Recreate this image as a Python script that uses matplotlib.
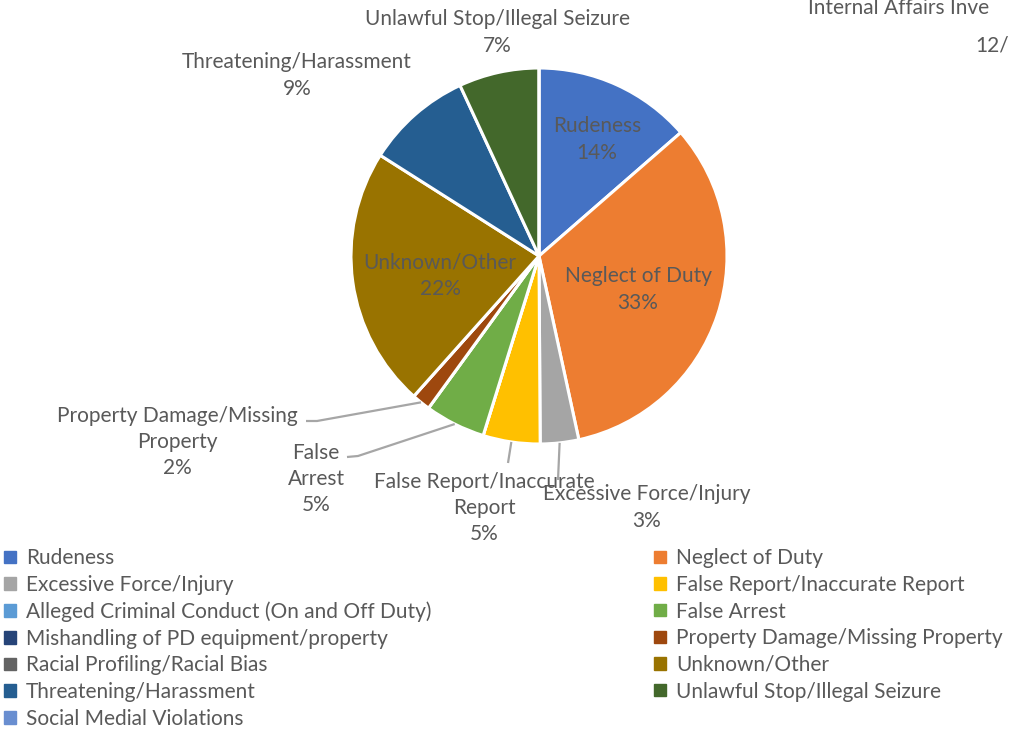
import numpy as np
import matplotlib
matplotlib.use("Agg")
import matplotlib.pyplot as plt
from matplotlib.patches import Patch

plt.rcParams['font.family'] = ['Lato', 'DejaVu Sans']

# Complaint categories (legend order, slices run clockwise from 12 o'clock)
categories = [
    "Rudeness", "Neglect of Duty", "Excessive Force/Injury",
    "False Report/Inaccurate Report", "Alleged Criminal Conduct (On and Off Duty)",
    "False Arrest", "Mishandling of PD equipment/property",
    "Property Damage/Missing Property", "Racial Profiling/Racial Bias",
    "Unknown/Other", "Threatening/Harassment", "Unlawful Stop/Illegal Seizure",
    "Social Medial Violations",
]
shares = [13.6, 33.0, 3.3, 4.9, 0.0, 5.2, 0.0, 1.6, 0.0, 22.4, 9.1, 6.9, 0.0]
colors = ["#4472C4", "#ED7D31", "#A5A5A5", "#FFC000", "#5B9BD5", "#70AD47",
          "#264478", "#9E480E", "#636363", "#997300", "#255E91", "#43682B",
          "#698ED0"]
# wrapped label text as shown on the chart
label_text = {
    "Rudeness": "Rudeness",
    "Neglect of Duty": "Neglect of Duty",
    "Excessive Force/Injury": "Excessive Force/Injury",
    "False Report/Inaccurate Report": "False Report/Inaccurate\nReport",
    "False Arrest": "False\nArrest",
    "Property Damage/Missing Property": "Property Damage/Missing\nProperty",
    "Unknown/Other": "Unknown/Other",
    "Threatening/Harassment": "Threatening/Harassment",
    "Unlawful Stop/Illegal Seizure": "Unlawful Stop/Illegal Seizure",
}

text_color = "#595959"
line_color = "#A6A6A6"
R_PX = 188.0            # pie radius in pixels
CX, CY = 539.0, 256.0   # pie centre in pixels (from top-left)
W, H = 1013, 734


def px(x, y):
    # pixel position (top-left origin) -> pie data units
    return (x - CX) / R_PX, (CY - y) / R_PX


fig = plt.figure(figsize=(W / 100, H / 100), dpi=100)
ax = fig.add_axes([0, 0, 1, 1])

wedges, _ = ax.pie(shares, colors=colors, startangle=90, counterclock=False,
                   radius=1.0, wedgeprops=dict(edgecolor="white", linewidth=2.2))
# pie() resets the limits, so fix them afterwards
ax.set_xlim(-CX / R_PX, (W - CX) / R_PX)
ax.set_ylim((CY - H) / R_PX, CY / R_PX)
ax.set_aspect("equal")
ax.axis("off")

# label placement in pixels: (centre x, first-line centre y, elbow points or None)
placement = {
    "Rudeness": (597, 125, None),
    "Neglect of Duty": (638, 275, None),
    "Unknown/Other": (440, 261, None),
    "Unlawful Stop/Illegal Seizure": (497, 18, None),
    "Threatening/Harassment": (297, 61, None),
    "Property Damage/Missing Property": (177, 413, (306, 421, 317, 421)),
    "False Arrest": (316, 450, (347, 457, 358, 456)),
    "False Report/Inaccurate Report": (484, 479, (508, 463, 508, 463)),
    "Excessive Force/Injury": (647, 493, (558, 480, 558, 480)),
}

fs = 15
line_h = 29.0
total = sum(shares)
for w, cat, val in zip(wedges, categories, shares):
    if val == 0 or cat not in placement:
        continue
    x0, y0, elbow = placement[cat]
    txt = label_text[cat] + "\n" + f"{round(val / total * 100):d}%"
    nlines = txt.count("\n") + 1
    yc = y0 + (nlines - 1) * line_h / 2
    tx, ty = px(x0, yc)
    ax.text(tx, ty, txt, ha="center", va="center", fontsize=fs,
            color=text_color, linespacing=1.4)
    if elbow is not None:
        mid = np.deg2rad((w.theta1 + w.theta2) / 2)
        ex, ey = np.cos(mid) * 1.0, np.sin(mid) * 1.0
        ax1, ay1 = px(elbow[0], elbow[1])
        ax2, ay2 = px(elbow[2], elbow[3])
        ax.plot([ax1, ax2, ex], [ay1, ay2, ey], color=line_color, lw=1.6,
                solid_capstyle="butt")

# title (cut off at the right edge of the picture)
fig.text(808 / W, 1 - 8 / H, "Internal Affairs Inve", ha="left", va="center",
         fontsize=fs, color=text_color)
fig.text(975 / W, 1 - 45 / H, "12/", ha="left", va="center",
         fontsize=fs, color=text_color)

# legend: two columns, row-major order
handles = [Patch(facecolor=c, edgecolor=c) for c in colors]
left_idx = list(range(0, len(categories), 2))
right_idx = list(range(1, len(categories), 2))
for idx, xpos in ((left_idx, 0 / W), (right_idx, 650 / W)):
    fig.legend([handles[i] for i in idx], [categories[i] for i in idx],
               loc="upper left", bbox_to_anchor=(xpos, 1 - 544 / H),
               frameon=False, fontsize=fs, labelcolor=text_color,
               handlelength=0.55, handleheight=0.55, handletextpad=0.5,
               labelspacing=0.32, borderpad=0.2, borderaxespad=0)

fig.savefig("out.png", dpi=100)
